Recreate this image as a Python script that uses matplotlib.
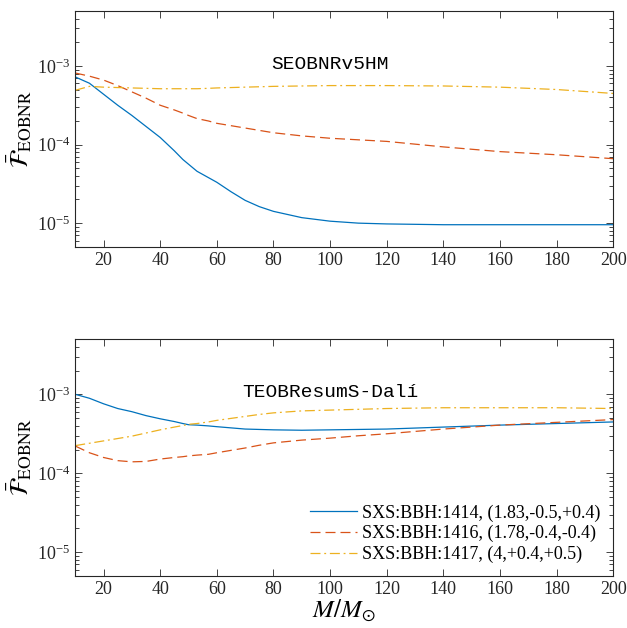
import numpy as np
import matplotlib
matplotlib.use("Agg")
import matplotlib.pyplot as plt
from matplotlib.ticker import LogLocator, NullFormatter, LogFormatterMathtext

plt.rcParams['font.family'] = ['Liberation Serif', 'DejaVu Serif']
plt.rcParams['mathtext.fontset'] = 'stix'

# data (log10 of F)
mass = [10, 15, 20, 25, 30, 35, 40, 45, 48, 50, 53, 57, 60, 65, 70, 75, 80, 90, 100, 110, 120, 140, 160, 180, 200]

top_1414 = [-3.14, -3.22, -3.36, -3.50, -3.63, -3.77, -3.91, -4.08, -4.19, -4.25, -4.34, -4.42, -4.48, -4.60,
            -4.71, -4.79, -4.85, -4.93, -4.975, -5.00, -5.01, -5.02, -5.02, -5.02, -5.02]
top_1416 = [-3.09, -3.13, -3.18, -3.25, -3.33, -3.41, -3.50, -3.56, -3.60, -3.63, -3.67, -3.70, -3.73, -3.76,
            -3.79, -3.82, -3.85, -3.89, -3.92, -3.94, -3.96, -4.03, -4.09, -4.13, -4.18]
top_1417 = [-3.31, -3.26, -3.27, -3.275, -3.28, -3.285, -3.29, -3.29, -3.29, -3.29, -3.29, -3.285, -3.28, -3.275,
            -3.27, -3.265, -3.26, -3.255, -3.25, -3.25, -3.25, -3.255, -3.27, -3.30, -3.35]

bot_1414 = [-3.00, -3.05, -3.12, -3.18, -3.22, -3.27, -3.31, -3.345, -3.37, -3.385, -3.39, -3.40, -3.41, -3.425,
            -3.44, -3.445, -3.45, -3.455, -3.45, -3.445, -3.44, -3.415, -3.39, -3.37, -3.35]
bot_1416 = [-3.655, -3.74, -3.80, -3.84, -3.855, -3.85, -3.82, -3.80, -3.79, -3.78, -3.77, -3.76, -3.74, -3.71,
            -3.68, -3.645, -3.615, -3.58, -3.555, -3.525, -3.50, -3.44, -3.39, -3.355, -3.32]
bot_1417 = [-3.65, -3.62, -3.59, -3.56, -3.53, -3.49, -3.45, -3.415, -3.395, -3.38, -3.37, -3.35, -3.33, -3.305,
            -3.28, -3.255, -3.235, -3.21, -3.20, -3.19, -3.18, -3.17, -3.17, -3.17, -3.18]

labels = ['SXS:BBH:1414, (1.83,-0.5,+0.4)',
          'SXS:BBH:1416, (1.78,-0.4,-0.4)',
          'SXS:BBH:1417, (4,+0.4,+0.5)']
titles = ['SEOBNRv5HM', 'TEOBResumS-Dalí']

colors = ['#0072BD', '#D95319', '#EDB120']
styles = ['-', (0, (8, 4)), (0, (8, 3, 1.5, 3))]

fig = plt.figure(figsize=(6.27, 6.28), dpi=100)
ax1 = fig.add_axes([0.120, 0.607, 0.858, 0.3755])
ax2 = fig.add_axes([0.120, 0.0828, 0.858, 0.3772])

m = np.array(mass)
for ax, data, title in [(ax1, [top_1414, top_1416, top_1417], titles[0]),
                        (ax2, [bot_1414, bot_1416, bot_1417], titles[1])]:
    for d, c, ls, lab in zip(data, colors, styles, labels):
        ax.plot(m, 10 ** np.array(d), color=c, ls=ls, lw=0.9, label=lab)
    ax.set_yscale('log')
    ax.set_xlim(10, 200)
    ax.set_ylim(5e-6, 5e-3)
    ax.set_xticks([20, 40, 60, 80, 100, 120, 140, 160, 180, 200])
    ax.yaxis.set_major_locator(LogLocator(base=10, numticks=10))
    ax.yaxis.set_minor_locator(LogLocator(base=10, subs=np.arange(2, 10), numticks=20))
    ax.yaxis.set_minor_formatter(NullFormatter())
    ax.yaxis.set_major_formatter(LogFormatterMathtext())
    ax.tick_params(which='both', direction='in', top=True, right=True, labelsize=13,
                   colors='#262626', width=0.6)
    ax.tick_params(which='major', length=5)
    ax.tick_params(which='minor', length=3)
    for s in ax.spines.values():
        s.set_linewidth(0.8)
        s.set_color('#262626')
    ax.set_ylabel(r'$\bar{\mathcal{F}}_{\rm EOBNR}$', fontsize=18, labelpad=2)
    ax.text(0.474, 0.775, title, transform=ax.transAxes, ha='center', va='center',
            fontsize=14, family='Liberation Mono', color='black')

ax2.set_xlabel(r'$M/M_{\odot}$', fontsize=18, labelpad=0)
ax2.legend(loc='lower right', frameon=False, fontsize=13, handlelength=2.6,
           handletextpad=0.3, labelspacing=0.2, borderaxespad=0.3)

fig.savefig('out.png', dpi=100)
